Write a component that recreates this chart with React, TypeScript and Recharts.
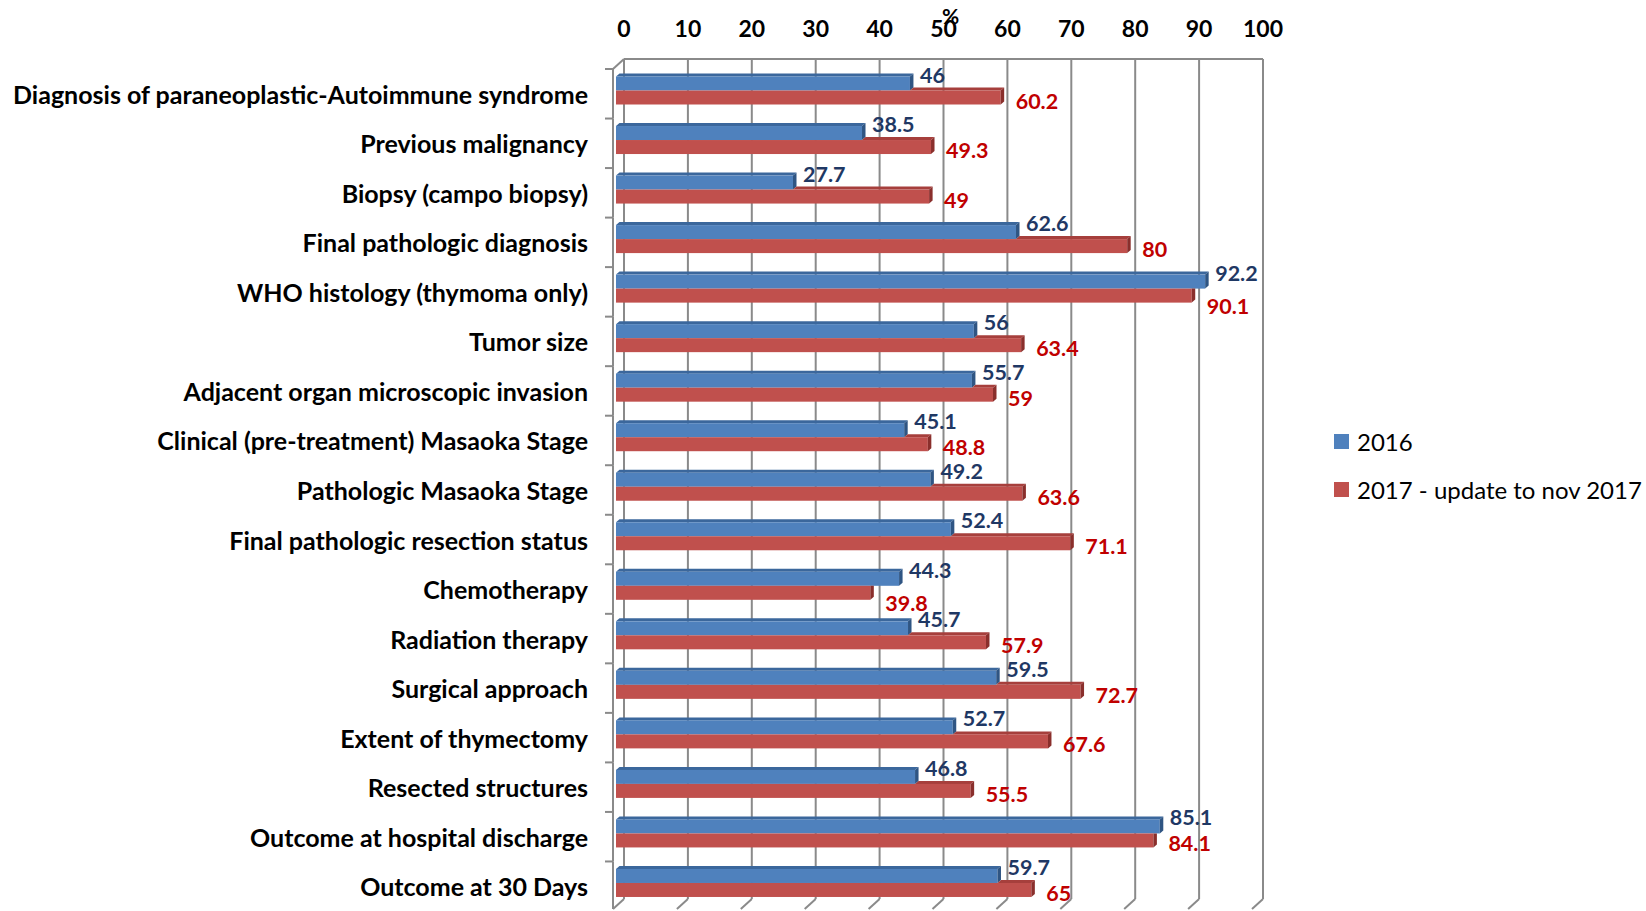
import React from "react";
import { BarChart, Bar, XAxis, YAxis, CartesianGrid, LabelList } from "recharts";

const categories = [
  "Diagnosis of paraneoplastic-Autoimmune syndrome",
  "Previous malignancy",
  "Biopsy (campo biopsy)",
  "Final pathologic diagnosis",
  "WHO histology (thymoma only)",
  "Tumor size",
  "Adjacent organ microscopic invasion",
  "Clinical (pre-treatment) Masaoka Stage",
  "Pathologic Masaoka Stage",
  "Final pathologic resection status",
  "Chemotherapy",
  "Radiation therapy",
  "Surgical approach",
  "Extent of thymectomy",
  "Resected structures",
  "Outcome at hospital discharge",
  "Outcome at 30 Days",
];

const values2016 = [46, 38.5, 27.7, 62.6, 92.2, 56, 55.7, 45.1, 49.2, 52.4, 44.3, 45.7, 59.5, 52.7, 46.8, 85.1, 59.7];
const values2017 = [60.2, 49.3, 49, 80, 90.1, 63.4, 59, 48.8, 63.6, 71.1, 39.8, 57.9, 72.7, 67.6, 55.5, 84.1, 65];

const xTicks = [0, 10, 20, 30, 40, 50, 60, 70, 80, 90, 100];
const seriesNames = ["2016", "2017 - update to nov 2017"];

const data = categories.map((name, i) => ({
  name,
  v2016: values2016[i],
  v2017: values2017[i],
}));

// layout
const W = 1646;
const H = 911;
const PLOT_TOP = 69;
const PLOT_LEFT = 616;
const MARGIN_RIGHT = 391;
const BACK_DX = 8; // back wall offset
const BACK_TOP = 59;
const BACK_BOTTOM = 899;
const FLOOR_FRONT = 909;
const GRID = "#8a8a8a";
const FONT = "Lato, 'Open Sans', sans-serif";

const BLUE = { front: "#4f81bd", top: "#3b679c", side: "#2f5583", label: "#1f3864" };
const RED = { front: "#c0504d", top: "#a63f3c", side: "#8a2f2c", label: "#c00000" };

const LIFT = 3.5;
const DX = 3.5;
const DY = 3;

function BlueBar(props: any) {
  const { x, y, width, height } = props;
  const t = y - LIFT;
  const r = x + width;
  return (
    <g>
      <polygon points={`${x},${t} ${x + DX},${t - DY} ${r + DX},${t - DY} ${r},${t}`} fill={BLUE.top} />
      <rect x={x} y={t} width={width} height={height} fill={BLUE.front} />
      <polygon points={`${r},${t} ${r + DX},${t - DY} ${r + DX},${t + height - DY} ${r},${t + height}`} fill={BLUE.side} />
    </g>
  );
}

function RedBar(props: any) {
  const { x, y, width, height, payload } = props;
  const t = y - LIFT;
  const r = x + width;
  const blueW = payload.v2017 > 0 ? (width * payload.v2016) / payload.v2017 : 0;
  const covered = Math.min(blueW, width);
  const longer = blueW < width;
  return (
    <g>
      {longer && (
        <polygon points={`${x + covered},${t} ${x + covered + DX},${t - DY} ${r + DX},${t - DY} ${r},${t}`} fill={RED.top} />
      )}
      <rect x={x} y={t} width={width} height={height} fill={RED.front} />
      {longer ? (
        <polygon points={`${r},${t} ${r + DX},${t - DY} ${r + DX},${t + height - DY} ${r},${t + height}`} fill={RED.side} />
      ) : (
        <polygon points={`${r},${t} ${r + DX},${t} ${r + DX},${t + height - DY} ${r},${t + height}`} fill={RED.side} />
      )}
    </g>
  );
}

function boxOf(props: any) {
  const vb = props.viewBox && props.viewBox.width != null ? props.viewBox : props;
  return { x: Number(vb.x), y: Number(vb.y), width: Number(vb.width), height: Number(vb.height) };
}

function BlueLabel(props: any) {
  const { x, y, width, height } = boxOf(props);
  return (
    <text x={x + width + 10} y={y - LIFT + height / 2 - 9} fill={BLUE.label} fontFamily={FONT} fontWeight={700} fontSize={21.5} dominantBaseline="central">
      {props.value}
    </text>
  );
}

function RedLabel(props: any) {
  const { x, y, width, height } = boxOf(props);
  const idx = props.index;
  const below = idx != null && values2017[idx] < values2016[idx] - 2 ? 7 : 0;
  return (
    <text x={x + width + 15} y={y - LIFT + height / 2 + 3 + below} fill={RED.label} fontFamily={FONT} fontWeight={700} fontSize={21.5} dominantBaseline="central">
      {props.value}
    </text>
  );
}

function XTick(props: any) {
  const { x, payload } = props;
  const bx = x + BACK_DX;
  return (
    <g>
      <text x={bx} y={28} textAnchor="middle" dominantBaseline="central" fontFamily={FONT} fontWeight={700} fontSize={23} fill="#000">
        {payload.value}
      </text>
      {payload.value === 50 && (
        <text x={bx + 7} y={15} textAnchor="middle" dominantBaseline="central" fontFamily={FONT} fontWeight={700} fontSize={21} fill="#000">
          %
        </text>
      )}
      <line x1={bx} y1={BACK_BOTTOM} x2={bx - 11} y2={FLOOR_FRONT} stroke={GRID} strokeWidth={2} />
      {payload.value === 0 && (
        <line x1={x - 3} y1={PLOT_TOP} x2={bx} y2={BACK_TOP} stroke={GRID} strokeWidth={2} />
      )}
    </g>
  );
}

function YTick(props: any) {
  const { y, payload } = props;
  const band = (H - PLOT_TOP) / categories.length;
  const ax = PLOT_LEFT - 3;
  return (
    <g>
      <text x={PLOT_LEFT - 28} y={y} textAnchor="end" dominantBaseline="central" fontFamily={FONT} fontWeight={700} fontSize={25} fill="#000">
        {payload.value}
      </text>
      <line x1={ax - 8} x2={ax} y1={y - band / 2} y2={y - band / 2} stroke={GRID} strokeWidth={2} />
      <line x1={ax} x2={ax} y1={y - band / 2} y2={Math.min(y + band / 2, FLOOR_FRONT)} stroke={GRID} strokeWidth={2} />
    </g>
  );
}

function backGrid(args: any) {
  const scale = args && args.xAxis && args.xAxis.scale;
  if (typeof scale === "function") return xTicks.map((t) => scale(t) + BACK_DX);
  const w = W - MARGIN_RIGHT - PLOT_LEFT;
  return xTicks.map((t) => PLOT_LEFT + (t / 100) * w + BACK_DX);
}

export default function App() {
  return (
    <div style={{ position: "absolute", left: 0, top: 0, width: W, height: H, overflow: "hidden", background: "#fff" }}>
      <BarChart
        width={W}
        height={H}
        data={data}
        layout="vertical"
        margin={{ top: 0, right: MARGIN_RIGHT, bottom: 0, left: 0 }}
        barSize={14}
        barGap={0}
      >
        <CartesianGrid
          horizontal={true}
          vertical={true}
          x={PLOT_LEFT + BACK_DX}
          y={BACK_TOP}
          width={W - MARGIN_RIGHT - PLOT_LEFT}
          height={BACK_BOTTOM - BACK_TOP}
          horizontalPoints={[BACK_TOP]}
          verticalCoordinatesGenerator={backGrid}
          stroke={GRID}
          strokeWidth={2}
        />
        <XAxis
          type="number"
          orientation="top"
          domain={[0, 100]}
          ticks={xTicks}
          height={PLOT_TOP}
          axisLine={false}
          tickLine={false}
          tick={<XTick />}
          interval={0}
        />
        <YAxis
          type="category"
          dataKey="name"
          width={PLOT_LEFT}
          axisLine={false}
          tickLine={false}
          tick={<YTick />}
          interval={0}
        />
        <Bar dataKey="v2016" name={seriesNames[0]} fill={BLUE.front} shape={<BlueBar />} isAnimationActive={false}>
          <LabelList dataKey="v2016" content={<BlueLabel />} />
        </Bar>
        <Bar dataKey="v2017" name={seriesNames[1]} fill={RED.front} shape={<RedBar />} isAnimationActive={false}>
          <LabelList dataKey="v2017" content={<RedLabel />} />
        </Bar>
      </BarChart>
      <div style={{ position: "absolute", left: 1334, top: 426, fontFamily: FONT, fontSize: 24, color: "#000" }}>
        {seriesNames.map((n, i) => (
          <div key={n} style={{ display: "flex", alignItems: "center", height: 30, marginBottom: 18 }}>
            <span style={{ display: "inline-block", width: 15, height: 15, background: i === 0 ? BLUE.front : RED.front, marginRight: 8 }} />
            <span>{n}</span>
          </div>
        ))}
      </div>
    </div>
  );
}
